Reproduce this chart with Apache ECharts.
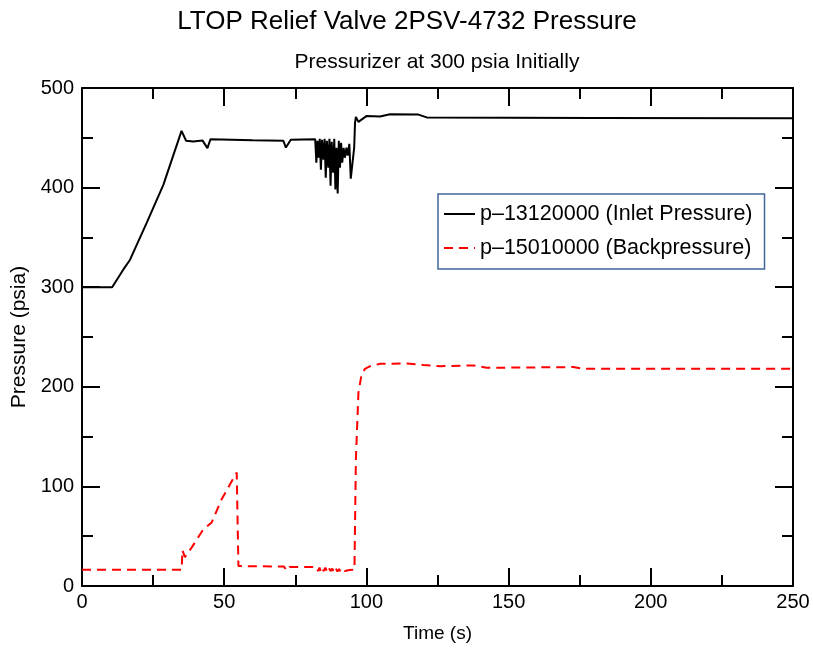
<!DOCTYPE html>
<html>
<head>
<meta charset="utf-8">
<title>LTOP Relief Valve 2PSV-4732 Pressure</title>
<script src="https://cdn.jsdelivr.net/npm/echarts@6.0.0/dist/echarts.min.js"></script>
<style>
    html, body { margin:0; padding:0; background:#fff; }
    #chart { width:813px; height:648px; }
</style>
</head>
<body>
<div id="chart"></div>
<script>
    // 入口压力 p-13120000
    var inletTime = [0, 10.6, 14.5, 16.9, 22.7, 28.6, 35.0, 36.6, 39.1, 42.4, 44.1, 45.2, 60, 70.8, 71.7, 73.4, 82.0,
        82.4, 82.8, 83.2, 83.6, 84.0, 84.4, 84.9, 85.3, 85.7, 86.1, 86.6, 87.0, 87.4, 87.8, 88.3, 88.7, 89.1, 89.5,
        89.9, 90.3, 90.7, 91.1, 91.5, 92.0, 92.4, 93.0, 93.4, 94.0, 94.5, 95.2, 95.7, 96.0, 96.3, 97.2, 100.1,
        104.8, 108.3, 118.3, 121.2, 180, 250];
    var inletP = [300, 300, 317.6, 327.6, 364.4, 402.8, 457, 447, 446.2, 447.2, 439.6, 448.6, 447.5, 447, 440.2, 448, 448.6,
        425, 447, 430, 449, 418, 448, 428, 449, 410, 447, 420, 449, 402, 446, 415, 449, 398, 440,
        394, 447, 420, 445, 425, 440, 430, 440, 432, 444, 409, 407, 440, 465, 471, 466, 472,
        471.3, 473.6, 473.3, 470.5, 470, 469.6];

    // 背压 p-15010000
    var backTime = [0, 35.05, 35.3, 36.2, 38.6, 42.7, 45.6, 49.1, 54.4, 55.0, 55.5, 71.0, 72.0, 73.0, 82.5,
        83.0, 83.5, 84.0, 84.5, 85.0, 85.6, 86.2, 86.8, 87.4, 88.0, 88.6, 89.2, 89.8, 90.4, 91.0, 91.6, 92.5,
        94.0, 95.8, 96.0, 96.3, 97.2, 98.3, 99.5, 101.3, 104.8, 114.2, 120, 125.9, 130, 137.6, 142.3, 172.7,
        176.3, 250];
    var backP = [16.3, 16.3, 36, 29, 38.8, 57.1, 63.8, 87.2, 114, 20, 19.5, 19.5, 15.5, 19, 19,
        15, 18.5, 14.5, 18, 15, 18.5, 14, 18, 15, 17.5, 14, 18, 14.5, 17, 14, 16.5, 15,
        16, 16.3, 60, 127, 194, 212.4, 218, 220.7, 223.1, 223.4, 222, 220.7, 221, 221.4, 219.1, 219.8,
        218.1, 218.1];

    var legendNames = ['p\u201313120000 (Inlet Pressure)', 'p\u201315010000 (Backpressure)'];
    var xTicks = { min:0, max:250, interval:50 };
    var yTicks = { min:0, max:500, interval:100 };

    function pairs(xs, ys){
        var out = [];
        for(var i=0;i<xs.length;i++){
            out.push([xs[i], ys[i]]);
        }
        return out;
    }

    var fontName = '"Liberation Sans", Arial, sans-serif';

    // 四边都画刻度（朝内）
    function makeAxis(cfg, pos, showLabel, name){
        var isX = (pos=='bottom' || pos=='top');
        return {
            type:'value',
            position:pos,
            min:cfg.min,
            max:cfg.max,
            interval:cfg.interval,
            name:name || '',
            nameLocation:'middle',
            nameGap:isX ? 38 : 49,
            nameTextStyle:{ color:'#000', fontSize:isX ? 19 : 21, fontFamily:fontName },
            axisLine:{ show:true, onZero:false, lineStyle:{ color:'#000', width:2 } },
            axisTick:{ show:true, inside:true, length:18, lineStyle:{ color:'#000', width:2 } },
            minorTick:{ show:true, splitNumber:2, length:11, lineStyle:{ color:'#000', width:2 } },
            axisLabel:{ show:showLabel, color:'#000', fontSize:20, fontFamily:fontName, margin:isX ? 6 : 8 },
            splitLine:{ show:false },
            minorSplitLine:{ show:false }
        };
    }

    var chart = echarts.init(document.getElementById('chart'));
    var option = {
        animation:false,
        backgroundColor:'#fff',
        graphic:[
            { type:'text', x:407, y:9, style:{ text:'LTOP Relief Valve 2PSV-4732 Pressure', fill:'#000',
                font:'26px ' + fontName, textAlign:'center' } },
            { type:'text', x:437, y:52, style:{ text:'Pressurizer at 300 psia Initially', fill:'#000',
                font:'21px ' + fontName, textAlign:'center' } }
        ],
        grid:{ left:82, right:20, top:88, bottom:61, containLabel:false },
        legend:{
            orient:'vertical',
            left:438,
            top:194,
            data:legendNames,
            itemWidth:31,
            itemHeight:2,
            itemGap:12,
            padding:[9, 12, 10, 5],
            borderColor:'#41669a',
            borderWidth:1.5,
            borderRadius:0,
            textStyle:{ color:'#000', fontSize:21.5, fontFamily:fontName }
        },
        xAxis:[
            makeAxis(xTicks, 'bottom', true, 'Time (s)'),
            makeAxis(xTicks, 'top', false)
        ],
        yAxis:[
            makeAxis(yTicks, 'left', true, 'Pressure (psia)'),
            makeAxis(yTicks, 'right', false)
        ],
        series:[
            {
                name:legendNames[0],
                type:'line',
                xAxisIndex:0,
                yAxisIndex:0,
                data:pairs(inletTime, inletP),
                symbol:'none',
                lineStyle:{ color:'#000', width:2 },
                itemStyle:{ color:'#000' }
            },
            {
                name:legendNames[1],
                type:'line',
                xAxisIndex:0,
                yAxisIndex:0,
                data:pairs(backTime, backP),
                symbol:'none',
                lineStyle:{ color:'#ff0000', width:2, type:[9, 6] },
                itemStyle:{ color:'#ff0000' }
            }
        ]
    };
    chart.setOption(option);
</script>
</body>
</html>
